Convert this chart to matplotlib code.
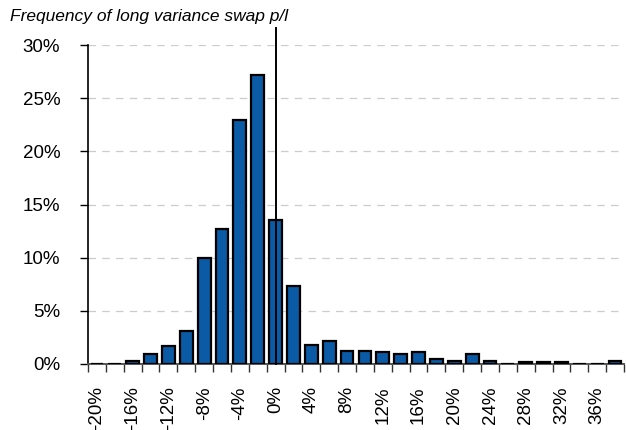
import numpy as np
import matplotlib
matplotlib.use("Agg")
import matplotlib.pyplot as plt
from matplotlib.ticker import FixedLocator, FuncFormatter

# p/l buckets (%), and frequency of each bucket (%)
buckets = list(range(-20, 40, 2))
freq = [0.0, 0.0, 0.3, 0.9, 1.7, 3.1, 10.0, 12.7, 22.9, 27.2,
        13.5, 7.3, 1.8, 2.2, 1.25, 1.25, 1.1, 0.9, 1.1, 0.5,
        0.3, 0.9, 0.3, 0.0, 0.15, 0.15, 0.15, 0.0, 0.0, 0.3]
y_ticks = [0, 5, 10, 15, 20, 25, 30]
title = "Frequency of long variance swap p/l"

plt.rcParams['font.family'] = ['Liberation Sans Narrow', 'Liberation Sans', 'DejaVu Sans']

fig = plt.figure(figsize=(6.26, 4.30), dpi=100)
ax = fig.add_axes([88 / 626, 66 / 430, 536 / 626, 319 / 430])

x = np.arange(len(buckets))
ax.bar(x, freq, width=0.72, color='#0a5aa5', edgecolor='black', linewidth=1.6, zorder=3)

ax.set_xlim(-0.5, len(buckets) - 0.5)
ax.set_ylim(0, 30)

# y axis
ax.set_yticks(y_ticks)
ax.yaxis.set_major_formatter(FuncFormatter(lambda v, p: f"{v:.0f}%"))
ax.tick_params(axis='y', length=6, width=1, pad=14, labelsize=13.5, direction='out')
for v in y_ticks[1:]:
    ax.axhline(v, color='#cccccc', linestyle=(0, (6, 5)), linewidth=0.9, zorder=1)

# x axis: ticks between buckets, labels every other bucket
ax.xaxis.set_major_locator(FixedLocator(np.arange(len(buckets) + 1) - 0.5))
ax.xaxis.set_major_formatter(FuncFormatter(lambda v, p: ""))
lab_pos = x[::2]
ax.xaxis.set_minor_locator(FixedLocator(lab_pos))
ax.xaxis.set_minor_formatter(FuncFormatter(lambda v, p: f"{buckets[int(round(v))]}%"))
ax.tick_params(axis='x', which='major', length=6, width=1, color='#333333')
ax.tick_params(axis='x', which='minor', length=0, pad=16, labelsize=13.5, labelrotation=90)

for s in ['top', 'right']:
    ax.spines[s].set_visible(False)
ax.spines['left'].set_linewidth(1.2)
ax.spines['bottom'].set_color('#555555')
ax.spines['bottom'].set_linewidth(1.4)

# vertical marker at 0%
zero = buckets.index(0)
ax.plot([zero, zero], [0, 31.6], color='black', linewidth=1.4, zorder=4, clip_on=False)

fig.text(10 / 626, 1 - 17 / 430, title, fontsize=12.5, style='italic', va='center', ha='left')

fig.savefig("out.png", dpi=100)
